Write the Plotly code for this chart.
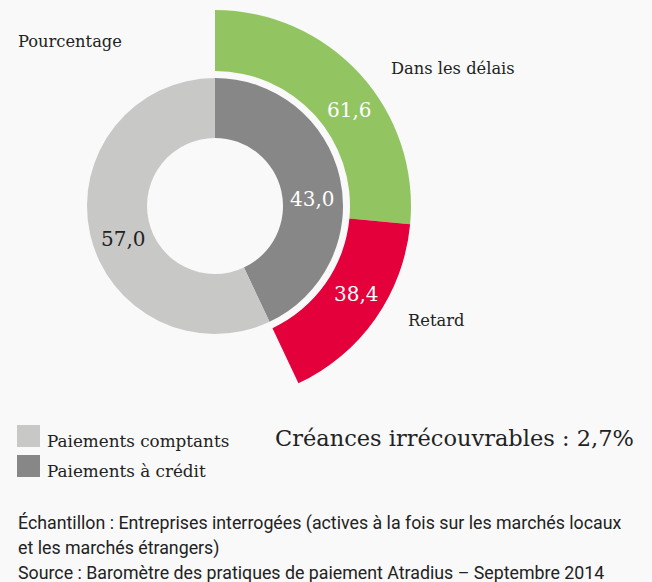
import plotly.graph_objects as go

# Data
inner_labels = ["Paiements à crédit", "Paiements comptants"]
inner_values = [43.0, 57.0]
outer_labels = ["Dans les délais", "Retard"]
outer_shares = [61.6, 38.4]   # % of credit payments
bad_debt = 2.7

W, H = 652, 582
BG = "#f9f9f9"
SERIF = "DejaVu Serif"
SANS = "Roboto"

C_LIGHT = "#c8c8c6"
C_DARK = "#878787"
C_GREEN = "#92c562"
C_RED = "#e4003a"

def fmt(v):
    return f"{v:.1f}".replace(".", ",")

def px_dom(cx, cy, r):
    return dict(x=[(cx - r) / W, (cx + r) / W], y=[1 - (cy + r) / H, 1 - (cy - r) / H])

cx, cy = 215, 206
credit = inner_values[0]
outer_values = [credit * s / 100 for s in outer_shares] + [inner_values[1]]

fig = go.Figure()
fig.add_trace(go.Pie(
    values=outer_values, labels=outer_labels + ["_"],
    marker=dict(colors=[C_GREEN, C_RED, "rgba(0,0,0,0)"], line=dict(width=0)),
    hole=135 / 196, sort=False, direction="clockwise", rotation=0,
    textinfo="none", hoverinfo="skip", showlegend=False,
    domain=px_dom(cx, cy, 196),
))
fig.add_trace(go.Pie(
    values=inner_values, labels=inner_labels,
    marker=dict(colors=[C_DARK, C_LIGHT], line=dict(width=0)),
    hole=68 / 128, sort=False, direction="clockwise", rotation=0,
    textinfo="none", hoverinfo="skip", showlegend=False,
    domain=px_dom(cx, cy, 128),
))

def ann(x, y, text, size, color="#222222", family=SERIF, xanchor="left", yanchor="middle"):
    fig.add_annotation(x=x / W, y=1 - y / H, xref="paper", yref="paper", text=text,
                       showarrow=False, xanchor=xanchor, yanchor=yanchor,
                       font=dict(family=family, size=size, color=color))

# value labels
ann(123, 239, fmt(inner_values[1]), 20, "#222222", xanchor="center")
ann(312, 199, fmt(inner_values[0]), 20, "#ffffff", xanchor="center")
ann(349, 110, fmt(outer_shares[0]), 20, "#ffffff", xanchor="center")
ann(357, 294, fmt(outer_shares[1]), 20, "#ffffff", xanchor="center")

# category labels
ann(16, 42, "Pourcentage", 16.3)
ann(389, 68, outer_labels[0], 16.3)
ann(406, 320, outer_labels[1], 16.3)

# legend
for i, (lab, col) in enumerate([(inner_labels[1], C_LIGHT), (inner_labels[0], C_DARK)]):
    y0 = 425 + i * 30
    fig.add_shape(type="rect", xref="paper", yref="paper",
                  x0=17 / W, x1=40 / W, y0=1 - (y0 + 22) / H, y1=1 - y0 / H,
                  fillcolor=col, line=dict(width=0))
    ann(45, y0 + 16, lab, 16.8)

ann(273, 438, f"Créances irrécouvrables : {fmt(bad_debt)}%", 22.5)

# footnote
ann(16, 523, "Échantillon : Entreprises interrogées (actives à la fois sur les marchés locaux", 17.8, "#222222", SANS)
ann(16, 548, "et les marchés étrangers)", 17.8, "#222222", SANS)
ann(16, 572, "Source : Baromètre des pratiques de paiement Atradius – Septembre 2014", 17.8, "#222222", SANS)

fig.update_layout(width=W, height=H, margin=dict(l=0, r=0, t=0, b=0),
                  paper_bgcolor=BG, plot_bgcolor=BG, showlegend=False)
fig.write_html("out.html", config={"displayModeBar": False},
               post_script="document.body.style.margin='0';document.body.style.overflow='hidden';")
